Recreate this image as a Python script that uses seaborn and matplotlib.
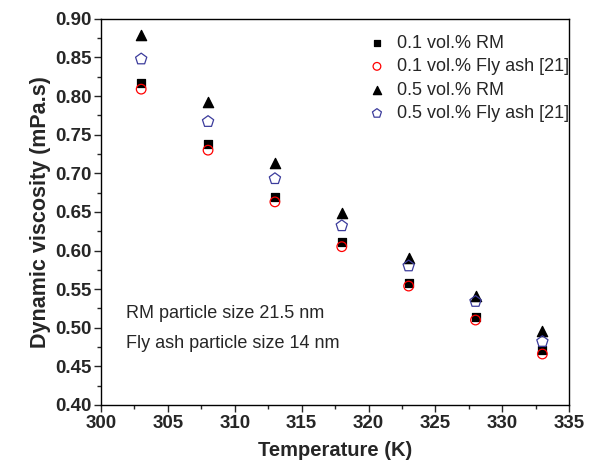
import matplotlib
matplotlib.use("Agg")
import matplotlib.pyplot as plt
import seaborn as sns
import pandas as pd
from matplotlib.ticker import MultipleLocator, FormatStrFormatter

# data
temperature = [303, 308, 313, 318, 323, 328, 333]
rm_01 = [0.817, 0.738, 0.669, 0.611, 0.558, 0.514, 0.471]
flyash_01 = [0.809, 0.730, 0.663, 0.605, 0.554, 0.510, 0.466]
rm_05 = [0.879, 0.792, 0.714, 0.648, 0.590, 0.541, 0.496]
flyash_05 = [0.848, 0.767, 0.693, 0.632, 0.580, 0.534, 0.482]

series_names = ["0.1 vol.% RM", "0.1 vol.% Fly ash [21]",
                "0.5 vol.% RM", "0.5 vol.% Fly ash [21]"]
series_values = [rm_01, flyash_01, rm_05, flyash_05]

notes = ["RM particle size 21.5 nm", "Fly ash particle size 14 nm"]

sns.set_style("white")
plt.rcParams["font.family"] = ["Liberation Sans", "DejaVu Sans"]

fig = plt.figure(figsize=(5.91, 4.72), dpi=100)
ax = fig.add_axes([0.171, 0.142, 0.792, 0.818])

styles = [
    dict(marker="s", s=36, color="black", edgecolor="black"),
    dict(marker="o", s=48, facecolor="none", edgecolor="red"),
    dict(marker="^", s=55, color="black", edgecolor="black"),
    dict(marker="p", s=72, facecolor="none", edgecolor="#3c3c9c"),
]

for name, vals, st in zip(series_names, series_values, styles):
    df = pd.DataFrame({"T": temperature, "mu": vals})
    sns.scatterplot(data=df, x="T", y="mu", ax=ax, label=name,
                    linewidth=0.9, **st)

ax.set_xlim(300, 335)
ax.set_ylim(0.40, 0.90)
ax.xaxis.set_major_locator(MultipleLocator(5))
ax.xaxis.set_minor_locator(MultipleLocator(2.5))
ax.yaxis.set_major_locator(MultipleLocator(0.05))
ax.yaxis.set_minor_locator(MultipleLocator(0.025))
ax.yaxis.set_major_formatter(FormatStrFormatter("%.2f"))
ax.tick_params(which="major", direction="out", length=5, width=1,
               bottom=True, left=True, labelsize=13.5, pad=2)
ax.tick_params(which="minor", direction="out", length=3, width=1,
               bottom=True, left=True)
for lab in ax.get_xticklabels() + ax.get_yticklabels():
    lab.set_fontweight("bold")
for sp in ax.spines.values():
    sp.set_color("black")
    sp.set_linewidth(1)

ax.set_xlabel("Temperature (K)", fontsize=14.5, fontweight="bold", labelpad=7)
ax.set_ylabel("Dynamic viscosity (mPa.s)", fontsize=15.5, fontweight="bold", labelpad=3)

ax.text(301.9, 0.518, notes[0], fontsize=13, va="center")
ax.text(301.9, 0.479, notes[1], fontsize=13, va="center")

ax.legend(loc="upper right", bbox_to_anchor=(1.015, 0.978), frameon=False,
          fontsize=13, handletextpad=0.5, handlelength=1.2,
          labelspacing=0.36, borderaxespad=0.0, markerscale=0.8)

fig.savefig("out.png", dpi=100)
